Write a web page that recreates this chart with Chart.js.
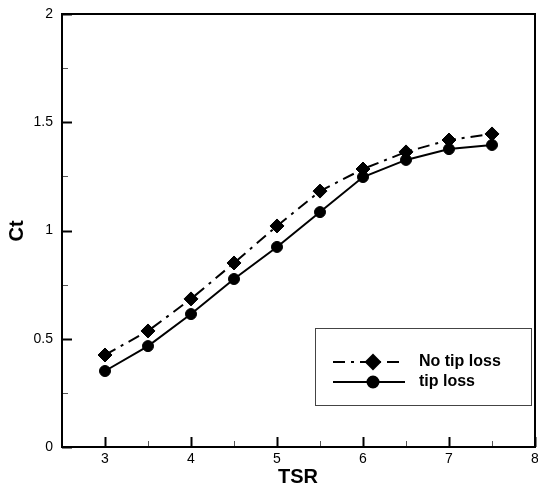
<!DOCTYPE html>
<html>
<head>
<meta charset="utf-8">
<script src="https://cdn.jsdelivr.net/npm/chart.js@4.4.0/dist/chart.umd.min.js"></script>
<style>
  html, body { margin: 0; padding: 0; background: #fff; }
  #wrap { width: 538px; height: 488px; }
</style>
</head>
<body>
<div id="wrap"><canvas id="ctChart" width="538" height="488"></canvas></div>
<script>
// TSR 값 (x축)
var tsr = [3, 3.5, 4, 4.5, 5, 5.5, 6, 6.5, 7, 7.5];
// No tip loss 시리즈
var ctNoTipLoss = [0.425, 0.536, 0.684, 0.85, 1.021, 1.182, 1.284, 1.363, 1.418, 1.446];
// tip loss 시리즈
var ctTipLoss = [0.351, 0.466, 0.614, 0.776, 0.924, 1.085, 1.247, 1.326, 1.376, 1.395];
// 눈금 라벨
var xTickLabels = [3, 4, 5, 6, 7, 8];
var yTickLabels = [0, 0.5, 1, 1.5, 2];
var seriesNames = ['No tip loss', 'tip loss'];

function toPoints(xs, ys) {
    var out = [];
    for (var i = 0; i < xs.length; i++) {
        out.push({x: xs[i], y: ys[i]});
    }
    return out;
}

// 축 프레임, 안쪽 눈금, 축 제목, 범례
const framePlugin = {
    id: 'framePlugin',
    afterDraw: function(chart) {
        var ctx = chart.ctx;
        var a = chart.chartArea;
        var xs = chart.scales.x;
        var ys = chart.scales.y;
        ctx.save();

        // 눈금 (안쪽)
        for (var v = 2.5; v <= 8.001; v += 0.5) {
            var px = Math.round(xs.getPixelForValue(v)) + 0.5;
            var major = Math.abs(v - Math.round(v)) < 0.01;
            ctx.lineWidth = major ? 2 : 1;
            ctx.strokeStyle = major ? '#000' : '#555';
            ctx.beginPath();
            ctx.moveTo(px, a.bottom);
            ctx.lineTo(px, a.bottom - (major ? 10 : 6));
            ctx.stroke();
        }
        for (var w = 0; w <= 2.001; w += 0.25) {
            var py = Math.round(ys.getPixelForValue(w)) + 0.5;
            var majorY = Math.abs(w * 2 - Math.round(w * 2)) < 0.01;
            ctx.lineWidth = majorY ? 2 : 1;
            ctx.strokeStyle = majorY ? '#000' : '#555';
            ctx.beginPath();
            ctx.moveTo(a.left, py);
            ctx.lineTo(a.left + (majorY ? 10 : 6), py);
            ctx.stroke();
        }

        // 프레임
        ctx.strokeStyle = '#000';
        ctx.lineWidth = 2;
        ctx.strokeRect(a.left, a.top, a.right - a.left, a.bottom - a.top);

        // 축 제목
        ctx.fillStyle = '#000';
        ctx.font = 'bold 20px "Liberation Sans", Arial, sans-serif';
        ctx.textAlign = 'center';
        ctx.textBaseline = 'middle';
        ctx.fillText('TSR', 298, 477);
        ctx.save();
        ctx.translate(17, 231);
        ctx.rotate(-Math.PI / 2);
        ctx.fillText('Ct', 0, 0);
        ctx.restore();

        // 범례 박스
        ctx.lineWidth = 1;
        ctx.strokeStyle = '#444';
        ctx.strokeRect(315.5, 328.5, 216, 77);
        var rows = [362, 382];
        var ds = chart.data.datasets;
        for (var r = 0; r < 2; r++) {
            ctx.strokeStyle = '#000';
            ctx.lineWidth = 2;
            ctx.setLineDash(ds[r].borderDash || []);
            ctx.beginPath();
            ctx.moveTo(333, rows[r]);
            ctx.lineTo(405, rows[r]);
            ctx.stroke();
            ctx.setLineDash([]);
            Chart.helpers.drawPoint(ctx, {
                pointStyle: ds[r].pointStyle,
                radius: ds[r].pointRadius,
                borderWidth: 1
            }, 373, rows[r]);
            ctx.fillStyle = '#000';
            ctx.font = 'bold 16px "Liberation Sans", Arial, sans-serif';
            ctx.textAlign = 'left';
            ctx.fillText(seriesNames[r], 419, rows[r]);
        }
        ctx.restore();
    }
};

var ctx = document.getElementById('ctChart').getContext('2d');
var ctChart = new Chart(ctx, {
    type: 'line',
    data: {
        datasets: [
            {
                label: seriesNames[0],
                data: toPoints(tsr, ctNoTipLoss),
                borderColor: '#000',
                backgroundColor: '#000',
                borderWidth: 2,
                borderDash: [12, 6, 3, 6],
                pointStyle: 'rectRot',
                pointRadius: 7,
                pointBorderWidth: 1,
                tension: 0
            },
            {
                label: seriesNames[1],
                data: toPoints(tsr, ctTipLoss),
                borderColor: '#000',
                backgroundColor: '#000',
                borderWidth: 2,
                pointStyle: 'circle',
                pointRadius: 5.5,
                pointBorderWidth: 1,
                tension: 0
            }
        ]
    },
    options: {
        responsive: false,
        animation: false,
        layout: { autoPadding: false, padding: { top: 14, right: 3, left: 0, bottom: 0 } },
        plugins: {
            legend: { display: false },
            tooltip: { enabled: false }
        },
        scales: {
            x: {
                type: 'linear',
                min: 2.5,
                max: 8,
                grid: { display: false, drawTicks: false },
                border: { display: false },
                ticks: {
                    stepSize: 1,
                    padding: 4,
                    color: '#000',
                    font: { family: '"Liberation Sans", Arial, sans-serif', size: 14 },
                    callback: function(value) {
                        return xTickLabels.indexOf(value) >= 0 ? String(value) : '';
                    }
                },
                afterFit: function(scale) {
                    scale.height = 41;
                    scale.paddingLeft = 0;
                    scale.paddingRight = 0;
                }
            },
            y: {
                min: 0,
                max: 2,
                grid: { display: false, drawTicks: false },
                border: { display: false },
                ticks: {
                    stepSize: 0.5,
                    padding: 9,
                    color: '#000',
                    font: { family: '"Liberation Sans", Arial, sans-serif', size: 14 },
                    callback: function(value) {
                        return yTickLabels.indexOf(value) >= 0 ? String(value) : '';
                    }
                },
                afterFit: function(scale) {
                    scale.width = 62;
                    scale.paddingTop = 0;
                    scale.paddingBottom = 0;
                }
            }
        }
    },
    plugins: [framePlugin]
});
</script>
</body>
</html>
